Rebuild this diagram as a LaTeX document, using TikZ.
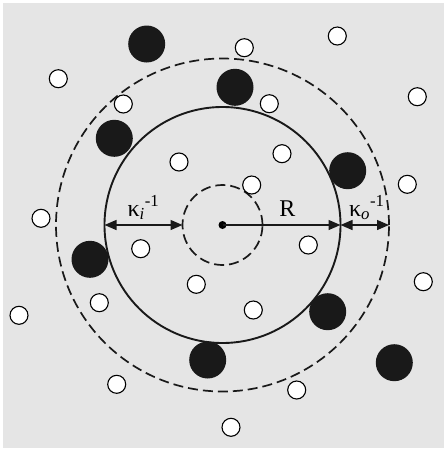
\documentclass[tikz,border=0pt]{standalone}
\usepackage{fontspec}
\setmainfont{Liberation Serif}
\usetikzlibrary{arrows.meta}

\begin{document}
\begin{tikzpicture}[x=1pt,y=-1pt]
  \path[use as bounding box] (0,0) rectangle (447,451);
  \fill[white] (0,0) rectangle (447,451);
  \fill[black!10] (3,3) rectangle (444,448);

  \tikzset{ring/.style={draw=black!90,circle,minimum size=#1,inner sep=0pt,outer sep=0pt},
    solidring/.style={ring=#1,line width=1.9pt},
    dashring/.style={ring=#1,line width=1.7pt,dash pattern=on 10pt off 5pt},
    cation/.style={circle,fill=black!90,minimum size=37pt,inner sep=0pt},
    anion/.style={circle,draw=black,line width=1.1pt,fill=white,minimum size=18pt,inner sep=0pt},
    dimboth/.style={arrows={Triangle[length=12pt,width=10pt]-Triangle[length=12pt,width=10pt]},
      line width=1.3pt,draw=black!90},
    dimone/.style={arrows={-Triangle[length=12pt,width=10pt]},line width=1.3pt,draw=black!90},
    lbl/.style={font=\fontsize{24}{27}\selectfont,anchor=base,yshift=9pt,inner sep=0pt}}

  % rings round the central ion
  \node[dashring=333] (screen) at (222.5,225) {};
  \node[solidring=236] (bound) at (222.5,225) {};
  \node[dashring=80] (core) at (222.5,225) {};

  % counter-ions
  \foreach \x/\y [count=\i] in {146.7/44,235/87.3,114.3/138.3,347.7/170.7,90/259.3,
      327.7/311.7,207.7/360,394.3/362.7}
    \node[cation] (big\i) at (\x,\y) {};

  % co-ions
  \foreach \x/\y [count=\i] in {58.3/78.7,244.3/47.7,337.3/36,123.3/104,269.3/103.7,
      417.3/96.7,179/162,282/153.7,251.7/185,407.3/184.3,41/218.3,140.7/248.7,
      308.3/245,196.3/284.3,423.3/281.7,99.3/302.7,19/315.3,253.3/310,116.7/384.3,
      296.7/390,231/427.3}
    \node[anion] (small\i) at (\x,\y) {};

  \node[circle,fill=black,minimum size=8pt,inner sep=0pt] (center) at (222.5,225) {};

  \draw[dimboth] (bound.west) -- (core.west)
    node[lbl,midway] {κ\textsubscript{\textit{i}}\textsuperscript{-1}};
  \draw[dimone] (center.center) -- (bound.east)
    node[lbl,midway,xshift=6pt] {R};
  \draw[dimboth] (bound.east) -- (screen.east)
    node[lbl,midway,xshift=2pt] {κ\textsubscript{\textit{o}}\textsuperscript{-1}};
\end{tikzpicture}
\end{document}
